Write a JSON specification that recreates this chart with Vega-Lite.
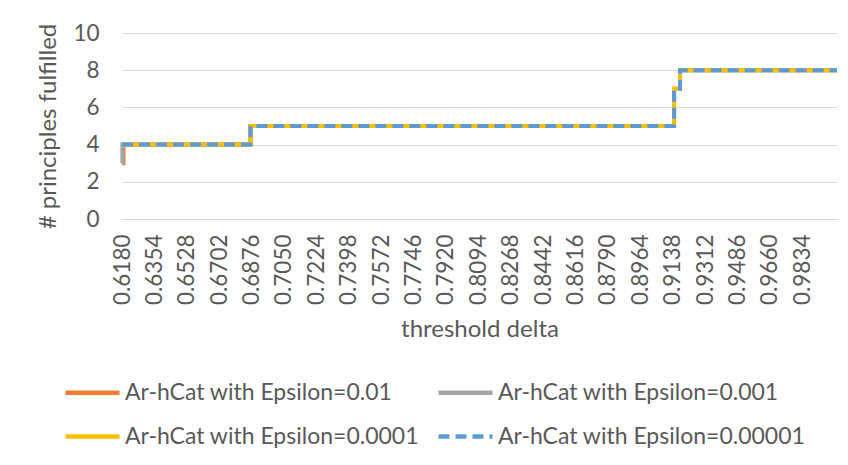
{
  "$schema": "https://vega.github.io/schema/vega-lite/v6.json",
  "width": 715,
  "height": 186,
  "autosize": {"type": "none"},
  "padding": {"left": 122, "top": 33, "right": 11, "bottom": 246},
  "background": "white",
  "config": {
    "font": "Lato",
    "view": {"stroke": null}
  },
  "data": {
    "values": [
      {"series": "Ar-hCat with Epsilon=0.01", "delta": 0.618, "principles": 3},
      {"series": "Ar-hCat with Epsilon=0.01", "delta": 0.6188, "principles": 4},
      {"series": "Ar-hCat with Epsilon=0.01", "delta": 0.687, "principles": 5},
      {"series": "Ar-hCat with Epsilon=0.01", "delta": 0.9145, "principles": 7},
      {"series": "Ar-hCat with Epsilon=0.01", "delta": 0.9177, "principles": 8},
      {"series": "Ar-hCat with Epsilon=0.01", "delta": 1.002, "principles": 8},
      {"series": "Ar-hCat with Epsilon=0.001", "delta": 0.618, "principles": 3},
      {"series": "Ar-hCat with Epsilon=0.001", "delta": 0.6182, "principles": 4},
      {"series": "Ar-hCat with Epsilon=0.001", "delta": 0.687, "principles": 5},
      {"series": "Ar-hCat with Epsilon=0.001", "delta": 0.9145, "principles": 7},
      {"series": "Ar-hCat with Epsilon=0.001", "delta": 0.9177, "principles": 8},
      {"series": "Ar-hCat with Epsilon=0.001", "delta": 1.002, "principles": 8},
      {"series": "Ar-hCat with Epsilon=0.0001", "delta": 0.618, "principles": 4},
      {"series": "Ar-hCat with Epsilon=0.0001", "delta": 0.687, "principles": 5},
      {"series": "Ar-hCat with Epsilon=0.0001", "delta": 0.9145, "principles": 7},
      {"series": "Ar-hCat with Epsilon=0.0001", "delta": 0.9177, "principles": 8},
      {"series": "Ar-hCat with Epsilon=0.0001", "delta": 1.002, "principles": 8},
      {"series": "Ar-hCat with Epsilon=0.00001", "delta": 0.618, "principles": 4},
      {"series": "Ar-hCat with Epsilon=0.00001", "delta": 0.687, "principles": 5},
      {"series": "Ar-hCat with Epsilon=0.00001", "delta": 0.9145, "principles": 7},
      {"series": "Ar-hCat with Epsilon=0.00001", "delta": 0.9177, "principles": 8},
      {"series": "Ar-hCat with Epsilon=0.00001", "delta": 1.002, "principles": 8}
    ]
  },
  "mark": {"type": "line", "interpolate": "step-after", "strokeWidth": 4, "strokeCap": "butt"},
  "encoding": {
    "x": {
      "field": "delta",
      "type": "quantitative",
      "scale": {"domain": [0.618, 1.002], "nice": false, "zero": false},
      "axis": {
        "values": [0.618, 0.6354, 0.6528, 0.6702, 0.6876, 0.705, 0.7224, 0.7398, 0.7572, 0.7746, 0.792, 0.8094, 0.8268, 0.8442, 0.8616, 0.879, 0.8964, 0.9138, 0.9312, 0.9486, 0.966, 0.9834],
        "format": ".4f",
        "labelAngle": -90,
        "labelFontSize": 22.5,
        "labelColor": "#595959",
        "labelPadding": 15,
        "labelOverlap": false,
        "labelFlush": false,
        "grid": false,
        "ticks": false,
        "domainColor": "#d9d9d9",
        "domainWidth": 1,
        "title": "threshold delta",
        "titleFontSize": 24,
        "titleFontWeight": "normal",
        "titleColor": "#595959",
        "titlePadding": 13
      }
    },
    "y": {
      "field": "principles",
      "type": "quantitative",
      "scale": {"domain": [0, 10], "nice": false},
      "axis": {
        "values": [0, 2, 4, 6, 8, 10],
        "grid": true,
        "gridColor": "#d9d9d9",
        "gridWidth": 1,
        "domain": false,
        "ticks": false,
        "labelFontSize": 22.5,
        "labelColor": "#595959",
        "labelPadding": 23,
        "title": "# principles fulfilled",
        "titleFontSize": 24,
        "titleFontWeight": "normal",
        "titleColor": "#595959",
        "titlePadding": 12
      }
    },
    "color": {
      "field": "series",
      "type": "nominal",
      "scale": {
        "domain": ["Ar-hCat with Epsilon=0.01", "Ar-hCat with Epsilon=0.001", "Ar-hCat with Epsilon=0.0001", "Ar-hCat with Epsilon=0.00001"],
        "range": ["#ED7D31", "#A5A5A5", "#FFC000", "#5B9BD5"]
      },
      "legend": {
        "orient": "none",
        "legendX": -59,
        "legendY": 330,
        "columns": 2,
        "direction": "horizontal",
        "title": null,
        "symbolType": "stroke",
        "symbolSize": 2916,
        "symbolStrokeWidth": 4.5,
        "labelFontSize": 23,
        "labelColor": "#595959",
        "labelLimit": 500,
        "labelOffset": 3,
        "rowPadding": 2,
        "columnPadding": 10
      }
    },
    "strokeDash": {
      "field": "series",
      "type": "nominal",
      "scale": {
        "domain": ["Ar-hCat with Epsilon=0.01", "Ar-hCat with Epsilon=0.001", "Ar-hCat with Epsilon=0.0001", "Ar-hCat with Epsilon=0.00001"],
        "range": [[1, 0], [1, 0], [1, 0], [11, 6]]
      },
      "legend": {
        "orient": "none",
        "legendX": -59,
        "legendY": 330,
        "columns": 2,
        "direction": "horizontal",
        "title": null,
        "symbolType": "stroke",
        "symbolSize": 2916,
        "symbolStrokeWidth": 4.5,
        "labelFontSize": 23,
        "labelColor": "#595959",
        "labelLimit": 500,
        "labelOffset": 3,
        "rowPadding": 2,
        "columnPadding": 10
      }
    }
  }
}
